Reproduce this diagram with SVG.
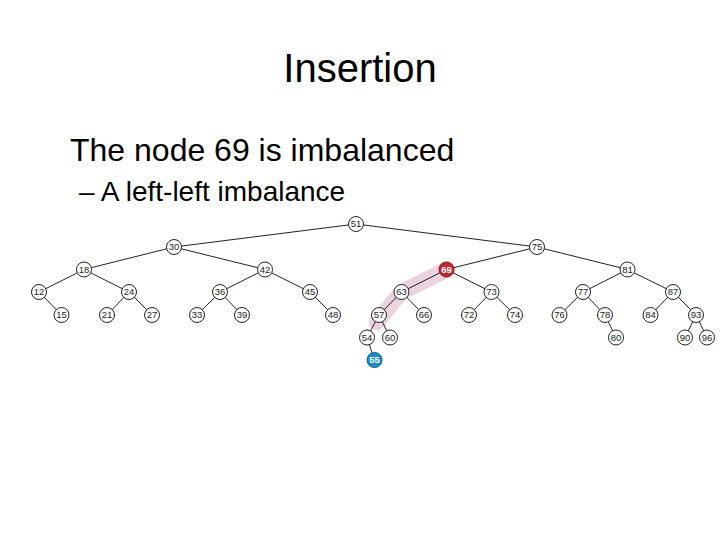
<svg xmlns="http://www.w3.org/2000/svg" width="720" height="540" viewBox="0 0 720 540">
<style>
.title{font-family:"Liberation Sans",Arial,sans-serif;font-size:40px;fill:#000}
.b1{font-family:"Liberation Sans",Arial,sans-serif;font-size:32px;fill:#000}
.b2{font-family:"Liberation Sans",Arial,sans-serif;font-size:28px;fill:#000}
.n circle{fill:#fff;stroke:#222;stroke-width:1}
.n text{font-family:"Liberation Sans",Arial,sans-serif;font-size:9.5px;fill:#222;text-anchor:middle}
.n.red circle{fill:#c0282c;stroke:#8a1a1c}
.n.blue circle{fill:#1d8cc9;stroke:#135f8c}
.n.red text,.n.blue text{fill:#fff;font-weight:bold}
#edges line{stroke:#222;stroke-width:1}
</style>
<rect width="720" height="540" fill="#fff"/>
<text class="title" x="360" y="82" text-anchor="middle">Insertion</text>
<text class="b1" x="70" y="161">The node 69 is imbalanced</text>
<text class="b2" x="79" y="201">– A left-left imbalance</text>
<path id="highlight" d="M447,269.5 L401.5,292 L377,322" fill="none" stroke="#ebd2df" stroke-width="16" stroke-linecap="round" stroke-linejoin="round"/>
<g id="edges">
<line x1="356" y1="224" x2="174" y2="247"/>
<line x1="356" y1="224" x2="537" y2="247"/>
<line x1="174" y1="247" x2="84" y2="269.5"/>
<line x1="174" y1="247" x2="265" y2="269.5"/>
<line x1="84" y1="269.5" x2="39" y2="292"/>
<line x1="84" y1="269.5" x2="129" y2="292"/>
<line x1="39" y1="292" x2="61.5" y2="315"/>
<line x1="129" y1="292" x2="107" y2="315"/>
<line x1="129" y1="292" x2="152" y2="315"/>
<line x1="265" y1="269.5" x2="220" y2="292"/>
<line x1="265" y1="269.5" x2="310" y2="292"/>
<line x1="220" y1="292" x2="197" y2="315"/>
<line x1="220" y1="292" x2="242" y2="315"/>
<line x1="310" y1="292" x2="333" y2="315"/>
<line x1="537" y1="247" x2="446.5" y2="269.5"/>
<line x1="537" y1="247" x2="627.5" y2="269.5"/>
<line x1="446.5" y1="269.5" x2="401.5" y2="292"/>
<line x1="446.5" y1="269.5" x2="491.5" y2="292"/>
<line x1="401.5" y1="292" x2="379" y2="315"/>
<line x1="401.5" y1="292" x2="424" y2="315"/>
<line x1="379" y1="315" x2="367" y2="337.5"/>
<line x1="379" y1="315" x2="390" y2="337.5"/>
<line x1="367" y1="337.5" x2="374.5" y2="360"/>
<line x1="491.5" y1="292" x2="469" y2="315"/>
<line x1="491.5" y1="292" x2="515" y2="315"/>
<line x1="627.5" y1="269.5" x2="583" y2="292"/>
<line x1="627.5" y1="269.5" x2="673" y2="292"/>
<line x1="583" y1="292" x2="559.5" y2="315"/>
<line x1="583" y1="292" x2="605" y2="315"/>
<line x1="605" y1="315" x2="616" y2="337.5"/>
<line x1="673" y1="292" x2="650.5" y2="315"/>
<line x1="673" y1="292" x2="696" y2="315"/>
<line x1="696" y1="315" x2="685" y2="337.5"/>
<line x1="696" y1="315" x2="707" y2="337.5"/>
</g>
<g id="n51" class="n"><circle cx="356" cy="224" r="7.5"/><text x="356" y="227.3">51</text></g>
<g id="n30" class="n"><circle cx="174" cy="247" r="7.5"/><text x="174" y="250.3">30</text></g>
<g id="n75" class="n"><circle cx="537" cy="247" r="7.5"/><text x="537" y="250.3">75</text></g>
<g id="n18" class="n"><circle cx="84" cy="269.5" r="7.5"/><text x="84" y="272.8">18</text></g>
<g id="n42" class="n"><circle cx="265" cy="269.5" r="7.5"/><text x="265" y="272.8">42</text></g>
<g id="n69" class="n red"><circle cx="446.5" cy="269.5" r="7.5"/><text x="446.5" y="272.8">69</text></g>
<g id="n81" class="n"><circle cx="627.5" cy="269.5" r="7.5"/><text x="627.5" y="272.8">81</text></g>
<g id="n12" class="n"><circle cx="39" cy="292" r="7.5"/><text x="39" y="295.3">12</text></g>
<g id="n24" class="n"><circle cx="129" cy="292" r="7.5"/><text x="129" y="295.3">24</text></g>
<g id="n36" class="n"><circle cx="220" cy="292" r="7.5"/><text x="220" y="295.3">36</text></g>
<g id="n45" class="n"><circle cx="310" cy="292" r="7.5"/><text x="310" y="295.3">45</text></g>
<g id="n63" class="n"><circle cx="401.5" cy="292" r="7.5"/><text x="401.5" y="295.3">63</text></g>
<g id="n73" class="n"><circle cx="491.5" cy="292" r="7.5"/><text x="491.5" y="295.3">73</text></g>
<g id="n77" class="n"><circle cx="583" cy="292" r="7.5"/><text x="583" y="295.3">77</text></g>
<g id="n87" class="n"><circle cx="673" cy="292" r="7.5"/><text x="673" y="295.3">87</text></g>
<g id="n15" class="n"><circle cx="61.5" cy="315" r="7.5"/><text x="61.5" y="318.3">15</text></g>
<g id="n21" class="n"><circle cx="107" cy="315" r="7.5"/><text x="107" y="318.3">21</text></g>
<g id="n27" class="n"><circle cx="152" cy="315" r="7.5"/><text x="152" y="318.3">27</text></g>
<g id="n33" class="n"><circle cx="197" cy="315" r="7.5"/><text x="197" y="318.3">33</text></g>
<g id="n39" class="n"><circle cx="242" cy="315" r="7.5"/><text x="242" y="318.3">39</text></g>
<g id="n48" class="n"><circle cx="333" cy="315" r="7.5"/><text x="333" y="318.3">48</text></g>
<g id="n57" class="n"><circle cx="379" cy="315" r="7.5"/><text x="379" y="318.3">57</text></g>
<g id="n66" class="n"><circle cx="424" cy="315" r="7.5"/><text x="424" y="318.3">66</text></g>
<g id="n72" class="n"><circle cx="469" cy="315" r="7.5"/><text x="469" y="318.3">72</text></g>
<g id="n74" class="n"><circle cx="515" cy="315" r="7.5"/><text x="515" y="318.3">74</text></g>
<g id="n76" class="n"><circle cx="559.5" cy="315" r="7.5"/><text x="559.5" y="318.3">76</text></g>
<g id="n78" class="n"><circle cx="605" cy="315" r="7.5"/><text x="605" y="318.3">78</text></g>
<g id="n84" class="n"><circle cx="650.5" cy="315" r="7.5"/><text x="650.5" y="318.3">84</text></g>
<g id="n93" class="n"><circle cx="696" cy="315" r="7.5"/><text x="696" y="318.3">93</text></g>
<g id="n54" class="n"><circle cx="367" cy="337.5" r="7.5"/><text x="367" y="340.8">54</text></g>
<g id="n60" class="n"><circle cx="390" cy="337.5" r="7.5"/><text x="390" y="340.8">60</text></g>
<g id="n80" class="n"><circle cx="616" cy="337.5" r="7.5"/><text x="616" y="340.8">80</text></g>
<g id="n90" class="n"><circle cx="685" cy="337.5" r="7.5"/><text x="685" y="340.8">90</text></g>
<g id="n96" class="n"><circle cx="707" cy="337.5" r="7.5"/><text x="707" y="340.8">96</text></g>
<g id="n55" class="n blue"><circle cx="374.5" cy="360" r="7.5"/><text x="374.5" y="363.3">55</text></g>
</svg>
